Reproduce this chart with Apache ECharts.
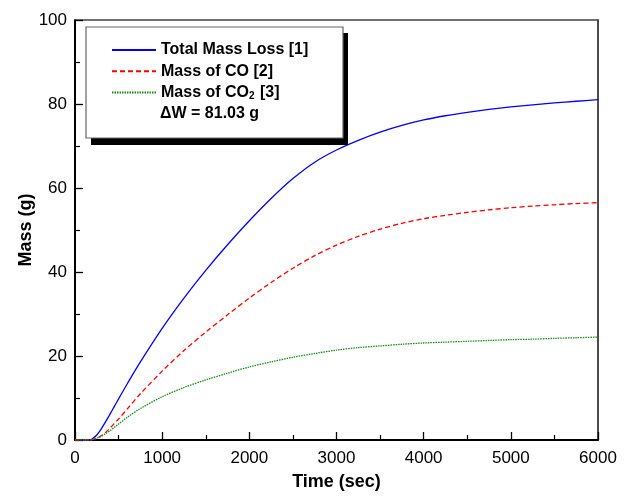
<!DOCTYPE html>
<html>
<head>
<meta charset="utf-8">
<script src="https://cdn.jsdelivr.net/npm/echarts@6/dist/echarts.min.js"></script>
<style>
html,body{margin:0;padding:0;background:#fff;}
#chart{width:631px;height:496px;}
</style>
</head>
<body>
<div id="chart"></div>
<script>
// ---- data ----
var timeSec = [0, 100, 175, 200, 250, 300, 350, 400, 450, 500, 600, 750,
  1000, 1250, 1500, 1750, 2000, 2250, 2500, 2750, 3000, 3250, 3500, 3750, 4000, 4250, 4500, 4750, 5000, 5250, 5500, 5750, 6000];
var totalMassLoss = [0, 0, 0, 0.3, 1.2, 2.6, 4.3, 6.1, 7.95, 9.8, 13.4, 18.6,
  26.6, 33.8, 40.4, 46.5, 52.2, 57.5, 62.25, 66.15, 69.05, 71.35, 73.3, 74.9, 76.2, 77.2, 78.0, 78.7, 79.3, 79.8, 80.25, 80.65, 81.03];
var massCO = [0, 0, 0, 0.1, 0.4, 1.0, 1.8, 2.8, 3.9, 5.0, 7.4, 11.0,
  16.4, 21.3, 25.7, 29.8, 33.8, 37.5, 40.9, 43.9, 46.4, 48.5, 50.2, 51.6, 52.7, 53.5, 54.2, 54.8, 55.3, 55.7, 56.0, 56.3, 56.5];
var massCO2 = [0, 0, 0, 0.1, 0.4, 0.9, 1.5, 2.2, 3.0, 3.8, 5.4, 7.5,
  10.3, 12.5, 14.3, 15.9, 17.4, 18.6, 19.7, 20.6, 21.4, 22.0, 22.4, 22.8, 23.1, 23.3, 23.5, 23.7, 23.9, 24.0, 24.2, 24.35, 24.5];
var seriesNames = ['Total Mass Loss [1]', 'Mass of CO [2]', 'Mass of CO2 [3]'];
var curveLabels = ['1', '2', '3'];
var curveLabelTime = [4670, 4705, 4840];
var curveLabelMass = [81.0, 59.3, 28.6];
var xTicks = {min: 0, max: 6000, interval: 1000};
var yTicks = {min: 0, max: 100, interval: 20};

function pairs(vals) { return timeSec.map(function (t, i) { return [t, vals[i]]; }); }

var FONT = '"Liberation Sans", Arial, Helvetica, sans-serif';
var chart = echarts.init(document.getElementById('chart'), null, {renderer: 'canvas'});

function mk(i) {
  return {
    symbol: 'circle', symbolSize: 0, silent: true,
    itemStyle: {opacity: 0},
    label: {show: true, position: 'inside', formatter: curveLabels[i], color: '#000',
      fontFamily: FONT, fontWeight: 'bold', fontSize: 23},
    data: [{coord: [curveLabelTime[i], curveLabelMass[i]]}]
  };
}

var axisTitleStyle = {color: '#000', fontFamily: FONT, fontWeight: 'bold', fontSize: 18};
var axisLabelStyle = {color: '#000', fontFamily: FONT, fontSize: 17};

var option = {
  backgroundColor: '#fff',
  animation: false,
  grid: {left: 75, right: 33, top: 20, bottom: 53, containLabel: false},
  xAxis: [{
    type: 'value', min: xTicks.min, max: xTicks.max, interval: xTicks.interval,
    name: 'Time (sec)', nameLocation: 'middle', nameGap: 33, nameMoveOverlap: false, nameTextStyle: axisTitleStyle,
    axisLine: {show: true, onZero: false, lineStyle: {color: '#000', width: 2}},
    axisTick: {show: true, inside: true, length: 8, lineStyle: {color: '#000', width: 1.3}},
    minorTick: {show: true, splitNumber: 2, length: 5, lineStyle: {color: '#000', width: 1.2}},
    axisLabel: Object.assign({margin: 10, formatter: function (v) { return String(v); }}, axisLabelStyle),
    splitLine: {show: false}
  }, {
    type: 'value', position: 'top', min: xTicks.min, max: xTicks.max,
    axisLine: {show: true, onZero: false, lineStyle: {color: '#444', width: 1.5}},
    axisTick: {show: false}, axisLabel: {show: false}, splitLine: {show: false}
  }],
  yAxis: [{
    type: 'value', min: yTicks.min, max: yTicks.max, interval: yTicks.interval,
    name: 'Mass (g)', nameLocation: 'middle', nameGap: 40, nameMoveOverlap: false, nameRotate: 90, nameTextStyle: axisTitleStyle,
    axisLine: {show: true, onZero: false, lineStyle: {color: '#000', width: 2}},
    axisTick: {show: true, inside: true, length: 8, lineStyle: {color: '#000', width: 1.3}},
    minorTick: {show: true, splitNumber: 2, length: 5, lineStyle: {color: '#000', width: 1.2}},
    axisLabel: Object.assign({margin: 8, formatter: function (v) { return String(v); }}, axisLabelStyle),
    splitLine: {show: false}
  }, {
    type: 'value', position: 'right', min: yTicks.min, max: yTicks.max,
    axisLine: {show: true, onZero: false, lineStyle: {color: '#111', width: 1.5}},
    axisTick: {show: false}, axisLabel: {show: false}, splitLine: {show: false}
  }],
  legend: {
    show: true, orient: 'vertical', left: 111, top: 41, padding: 0,
    itemWidth: 44, itemHeight: 14, itemGap: 3.3, z: 20,
    data: seriesNames,
    selectedMode: false,
    itemStyle: {opacity: 0},
    formatter: function (n) { return n === seriesNames[2] ? 'Mass of CO{sub|2} [3]' : n; },
    textStyle: {color: '#000', fontFamily: FONT, fontWeight: 'bold', fontSize: 16, lineHeight: 18,
      rich: {sub: {fontFamily: FONT, fontWeight: 'bold', fontSize: 10, lineHeight: 10, verticalAlign: 'bottom', padding: [0, 1, 0, 0]}}}
  },
  graphic: [
    {type: 'rect', z: 15, silent: true, shape: {x: 91, y: 33, width: 257, height: 112}, style: {fill: '#000'}},
    {type: 'rect', z: 16, silent: true, shape: {x: 86, y: 27, width: 257, height: 111}, style: {fill: '#fff', stroke: '#666', lineWidth: 1.2}},
    {type: 'text', z: 20, silent: true, left: 160, top: 106,
      style: {text: '\u0394W = ' + totalMassLoss[totalMassLoss.length - 1].toFixed(2) + ' g', fill: '#000',
        font: 'bold 16px ' + FONT}}
  ],
  series: [{
    name: seriesNames[0], type: 'line', data: pairs(totalMassLoss), smooth: 0.3, showSymbol: false, symbol: 'none',
    lineStyle: {color: '#0000ff', width: 1.3, type: 'solid'}, itemStyle: {color: '#0000ff'}, markPoint: mk(0), z: 3
  }, {
    name: seriesNames[1], type: 'line', data: pairs(massCO), smooth: 0.3, showSymbol: false, symbol: 'none',
    lineStyle: {color: '#ff0000', width: 1.3, type: [5, 3]}, itemStyle: {color: '#ff0000'}, markPoint: mk(1), z: 3
  }, {
    name: seriesNames[2], type: 'line', data: pairs(massCO2), smooth: 0.3, showSymbol: false, symbol: 'none',
    lineStyle: {color: '#1a8a1a', width: 1.3, type: [1.5, 1]}, itemStyle: {color: '#1a8a1a'}, markPoint: mk(2), z: 3
  }]
};
chart.setOption(option);
</script>
</body>
</html>
